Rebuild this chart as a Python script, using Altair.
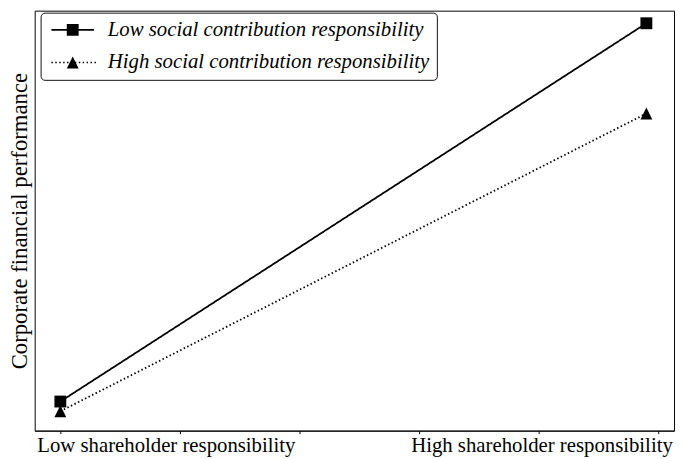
import altair as alt
import pandas as pd

# ---- data ----
series_names = ["Low social contribution responsibility",
                "High social contribution responsibility"]
x_categories = ["Low shareholder responsibility", "High shareholder responsibility"]
x_positions = [0.0, 1.0]
low_scr_values = [1.0, 4.9]
high_scr_values = [0.9, 3.97]
x_tick_values = [0.0, 0.204, 0.408, 0.612, 0.816, 1.020]
x_label_positions = [0.180, 0.821]

rows = []
for name, vals in zip(series_names, [low_scr_values, high_scr_values]):
    for cat, xp, v in zip(x_categories, x_positions, vals):
        rows.append({"series": name, "category": cat, "x": xp, "value": v})
df = pd.DataFrame(rows)

FONT = "Liberation Serif"
SQUARE = "M-1,-1L1,-1L1,1L-1,1Z"
TRIANGLE = "M0,-1L1,1L-1,1Z"


def rect(x0, x1, half_h):
    return f"M{x0:.2f},{-half_h:.2f}L{x1:.2f},{-half_h:.2f}L{x1:.2f},{half_h:.2f}L{x0:.2f},{half_h:.2f}Z"


# legend symbols: line sample drawn as filled thin rectangles + marker
LEG_SQUARE = rect(-3.6, 3.6, 0.14) + SQUARE
LEG_TRI = "".join(rect(-3.6 + 0.66 * k, -3.6 + 0.66 * k + 0.25, 0.125) for k in range(12)) + TRIANGLE

xs = alt.Scale(domain=[-0.0438, 1.0472], nice=False, zero=False)
ys = alt.Scale(domain=[0.7, 5.03], nice=False, zero=False)

y_axis = alt.Axis(title="Corporate financial performance", ticks=False, labels=False,
                  grid=False, domain=False, titleFont=FONT, titleFontSize=23,
                  titleFontWeight="normal", titleColor="black", titlePadding=3)

tick_axis = alt.Axis(orient="bottom", values=x_tick_values, labels=False, grid=False,
                     title=None, tickSize=3, tickColor="black", domainColor="black",
                     tickWidth=1)

label_expr = (f"datum.value < 0.5 ? '{x_categories[0]}' : '{x_categories[1]}'")
label_axis = alt.Axis(orient="bottom", values=x_label_positions, labelExpr=label_expr,
                      ticks=False, domain=False, grid=False, title=None,
                      labelFont=FONT, labelFontSize=21, labelColor="black",
                      labelBaseline="alphabetic", labelPadding=21, labelFlush=False,
                      labelOverlap=False, labelLimit=600)

legend = alt.Legend(
    title=None, orient="none", legendX=6, legendY=2, padding=7,
    fillColor="white", strokeColor="#111111", cornerRadius=4,
    labelFont=FONT, labelFontSize=21, labelFontStyle="italic", labelColor="black",
    labelLimit=600, symbolSize=144, symbolOffset=15, labelOffset=25, rowPadding=11,
    symbolStrokeWidth=0, symbolFillColor="black", symbolOpacity=1,
)

base = alt.Chart(df)

lines = base.mark_line(color="black", strokeWidth=1.8).encode(
    x=alt.X("x:Q", scale=xs, axis=tick_axis),
    y=alt.Y("value:Q", scale=ys, axis=y_axis),
    strokeDash=alt.StrokeDash("series:N",
                              scale=alt.Scale(domain=series_names, range=[[1, 0], [1.5, 2.5]]),
                              legend=None),
)

points_low = base.transform_filter(alt.datum.series == series_names[0]).mark_point(
    filled=True, color="black", opacity=1, size=144, strokeWidth=0, shape=SQUARE).encode(
    x=alt.X("x:Q", scale=xs, axis=label_axis),
    y=alt.Y("value:Q", scale=ys, axis=y_axis),
)

points_high = base.transform_filter(alt.datum.series == series_names[1]).mark_point(
    filled=True, color="black", opacity=1, size=144, strokeWidth=0, shape=TRIANGLE).encode(
    x=alt.X("x:Q", scale=xs, axis=None),
    y=alt.Y("value:Q", scale=ys, axis=y_axis),
)

legend_layer = base.mark_point(filled=True, color="black", opacity=0, size=144,
                               strokeWidth=0).encode(
    x=alt.X("x:Q", scale=xs, axis=None),
    y=alt.Y("value:Q", scale=ys, axis=y_axis),
    shape=alt.Shape("series:N",
                    scale=alt.Scale(domain=series_names, range=[LEG_SQUARE, LEG_TRI]),
                    legend=legend),
)

chart = alt.LayerChart(
    layer=[lines, points_low, points_high, legend_layer],
    resolve=alt.Resolve(axis=alt.AxisResolveMap(x="independent"),
                        scale=alt.ScaleResolveMap(shape="independent"),
                        legend=alt.LegendResolveMap(shape="independent")),
).properties(
    width=647, height=425,
    autosize=alt.AutoSizeParams(type="none"),
    padding={"left": 27, "top": 0, "right": 3, "bottom": 26},
    background="white",
).configure_view(stroke="black", strokeWidth=1)

chart.save("out.html", embed_options={"renderer": "svg", "actions": False})
